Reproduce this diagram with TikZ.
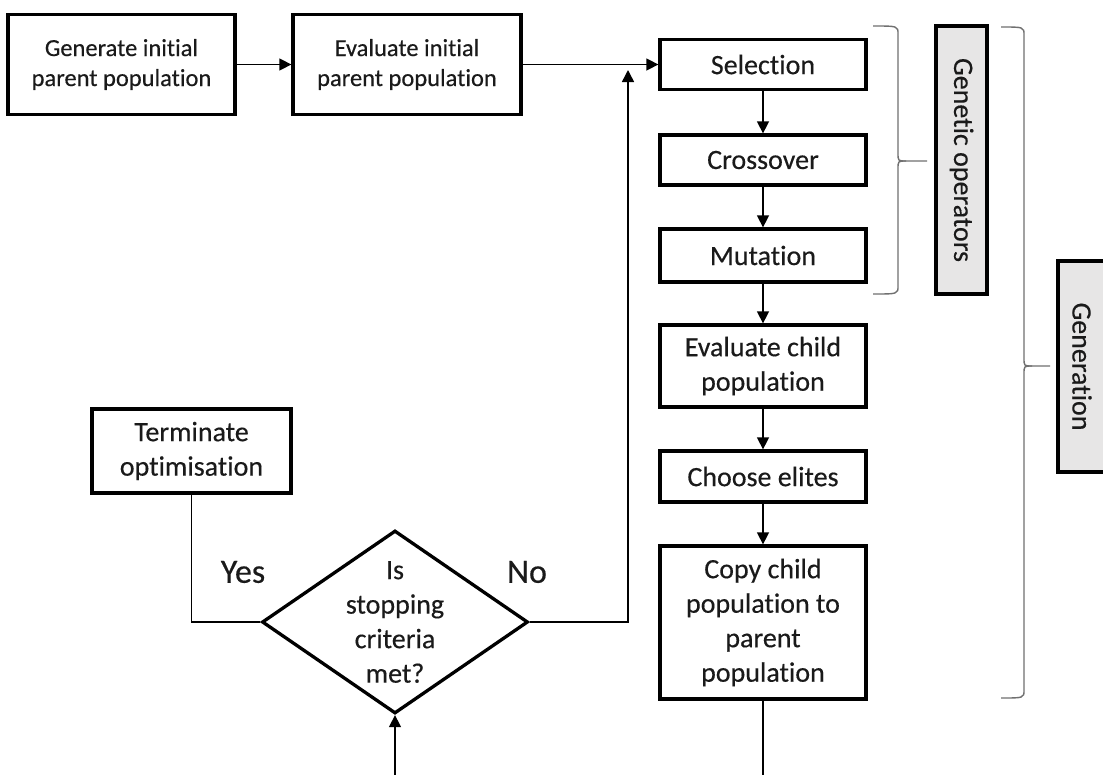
\documentclass[tikz,border=0pt]{standalone}
\usepackage{fontspec}
\setmainfont{Carlito}[Ligatures=NoCommon, FakeBold=0.35]
\usetikzlibrary{arrows.meta,shapes.geometric}
\definecolor{txt}{HTML}{1A1A1A}
\definecolor{lblfill}{HTML}{E7E6E6}
\definecolor{bracec}{HTML}{707070}
\tikzset{
  boxbase/.style={draw=black, line width=3.3pt, fill=white, text=txt, align=center, inner sep=0pt},
  toprow/.style={boxbase, minimum width=227pt, minimum height=100pt, font=\fontsize{24.5}{30}\selectfont},
  colbox/.style={boxbase, minimum width=206pt, font=\fontsize{28}{34.5}\selectfont},
  labelbox/.style={draw=black, line width=3.3pt, fill=lblfill, text=txt, inner sep=0pt, rotate=-90, font=\fontsize{28}{34}\selectfont},
  decision/.style={diamond, draw=black, line width=3.3pt, fill=white, inner sep=0pt, minimum width=266pt, minimum height=183pt},
  conn/.style={line width=1.5pt, draw=black},
  arr/.style={conn, -{Triangle[length=12pt,width=12pt]}},
  bracepath/.style={line width=1.4pt, draw=bracec},
  yesno/.style={text=txt, font=\fontsize{34}{40}\selectfont, inner sep=0pt}
}
\begin{document}
\begin{tikzpicture}[x=1pt,y=-1pt]
\useasboundingbox (0,0) rectangle (1103,774);
\clip (0,0) rectangle (1103,774);
\fill[white] (0,0) rectangle (1103,774);

% top row
\node[toprow] (gen) at (121.5,64.5) {Generate initial\\parent population};
\node[toprow, minimum width=228pt] (evi) at (407,64.5) {Evaluate initial\\parent population};

% right column
\node[colbox, minimum height=50pt] (sel) at (763,64.5) {Selection};
\node[colbox, minimum height=50pt] (cro) at (763,160) {Crossover};
\node[colbox, minimum height=53pt] (mut) at (763,255.5) {Mutation};
\node[colbox, minimum height=82pt] (evc) at (763,366) {Evaluate child\\population};
\node[colbox, minimum height=51pt] (eli) at (763,476.5) {Choose elites};
\node[colbox, minimum height=153pt] (cpy) at (763,622.5) {Copy child\\population to\\parent\\population};

% left lower part
\node[colbox, minimum width=199pt, minimum height=84pt] (term) at (191.5,451) {Terminate\\optimisation};
\node[decision, label={[text=txt, align=center, inner sep=0pt, font=\fontsize{28}{34.5}\selectfont]center:Is\\stopping\\criteria\\met?}] (dec) at (395,622) {};

\node[yesno] (yes) at (243,572) {Yes};
\node[yesno] (no) at (527,572) {No};

% label boxes
\node[labelbox, minimum width=268pt, minimum height=51pt] (gop) at (961.5,160) {Genetic operators};
\node[labelbox, minimum width=211pt, minimum height=48pt] (gnr) at (1082,366.5) {Generation};

% coordinates
\coordinate (looptop) at (628,70);
\coordinate (bot1) at (395,780);
\coordinate (bot2) at (763,780);

% connectors
\draw[arr] (gen.east) -- (evi.west);
\draw[arr] (evi.east) -- (sel.west);
\draw[arr] (sel.south) -- (cro.north);
\draw[arr] (cro.south) -- (mut.north);
\draw[arr] (mut.south) -- (evc.north);
\draw[arr] (evc.south) -- (eli.north);
\draw[arr] (eli.south) -- (cpy.north);
\draw[conn] (cpy.south) -- (bot2);
\draw[arr] (bot1) -- (dec.south);
\draw[arr] (dec.east) -| (looptop);
\draw[conn] (term.south) |- (dec.west);

% braces
\draw[bracepath] (873,26) .. controls (898,26) .. (898,34) -- (898,153)
  .. controls (898,161) .. (906,161) -- (927,161);
\draw[bracepath] (906,161) .. controls (898,161) .. (898,169) -- (898,286)
  .. controls (898,294) .. (873,294);
\draw[bracepath] (1001,27) .. controls (1024,27) .. (1024,35) -- (1024,358)
  .. controls (1024,366) .. (1032,366) -- (1050,366);
\draw[bracepath] (1032,366) .. controls (1024,366) .. (1024,374) -- (1024,690)
  .. controls (1024,698) .. (1001,698);
\end{tikzpicture}
\end{document}
